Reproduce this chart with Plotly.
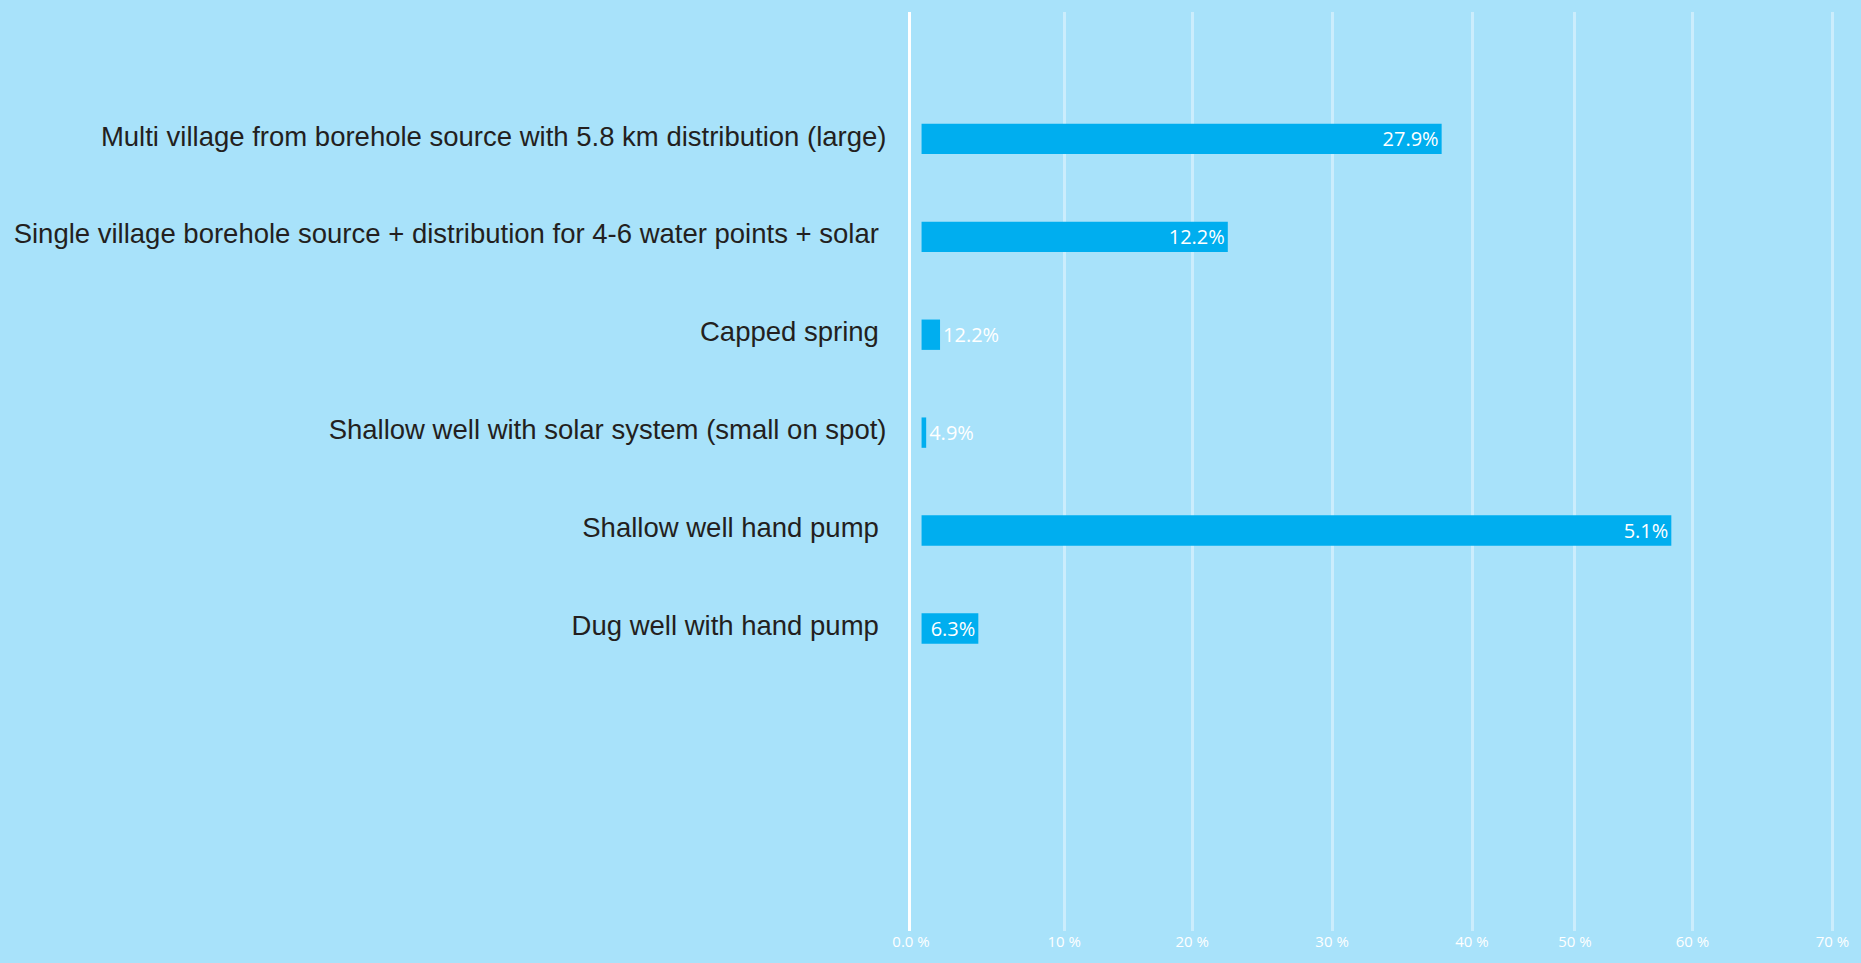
import plotly.graph_objects as go

# Data (bottom to top in the chart)
categories = [
    "Dug well with hand pump\u00a0",
    "Shallow well hand pump\u00a0",
    "Shallow well with solar system (small on spot)",
    "Capped spring\u00a0",
    "Single village borehole source + distribution for 4-6 water points + solar\u00a0",
    "Multi village from borehole source with 5.8 km distribution (large)",
]
bar_lengths = [4.3, 56.8, 0.35, 1.4, 23.2, 39.4]
bar_labels = ["6.3%", "5.1%", "4.9%", "12.2%", "12.2%", "27.9%"]

# x-axis ticks (gridlines as drawn in the reference)
tick_values = [0, 11.6, 21.3, 31.9, 42.5, 50.3, 59.2, 69.8]
tick_labels = ["0.0 %", "10 %", "20 %", "30 %", "40 %", "50 %", "60 %", "70 %"]

BG = "#a8e2fa"
BAR = "#00aeef"

fig = go.Figure()
fig.add_trace(go.Bar(
    y=categories,
    x=bar_lengths,
    base=0.8,
    orientation="h",
    marker=dict(color=BAR, line=dict(width=0)),
    width=0.31,
    text=bar_labels,
    textposition="auto",
    insidetextanchor="end",
    constraintext="none",
    textfont=dict(color="white", size=20, family="Open Sans"),
    insidetextfont=dict(color="white", size=20, family="Open Sans"),
    outsidetextfont=dict(color="white", size=20, family="Open Sans"),
    cliponaxis=False,
    hoverinfo="skip",
))

fig.update_layout(
    width=1861, height=963,
    paper_bgcolor=BG, plot_bgcolor=BG,
    margin=dict(l=911, r=20, t=12, b=31),
    showlegend=False,
)
fig.update_xaxes(
    range=[0, 70],
    tickmode="array", tickvals=tick_values, ticktext=tick_labels,
    showgrid=True, gridcolor="rgba(255,255,255,0.4)", gridwidth=2.5,
    zeroline=False, showline=False,
    tickfont=dict(color="white", size=15, family="Open Sans"),
    ticks="", fixedrange=True,
)
fig.update_yaxes(
    type="category",
    categoryorder="array", categoryarray=categories,
    range=[-3.09, 6.296],
    showgrid=False, zeroline=False,
    showline=True, linecolor="white", linewidth=3,
    ticks="",
    ticklabelstandoff=16,
    ticklabelshift=-3,
    tickfont=dict(color="#231f20", size=27.5, family="Liberation Sans, Arial"),
    fixedrange=True,
)

fig.write_html("out.html", config={"displayModeBar": False},
               post_script="document.body.style.margin='0px';")
